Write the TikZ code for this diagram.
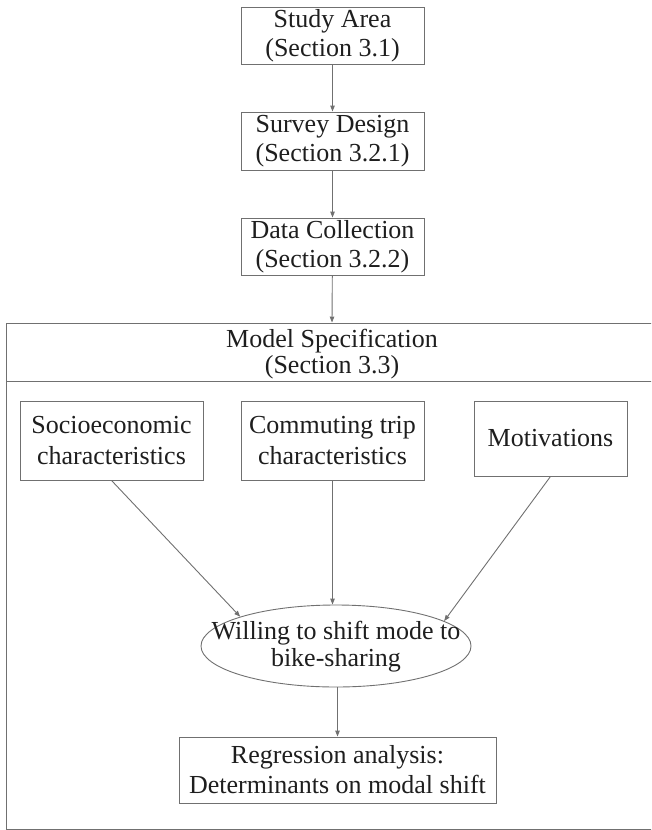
\documentclass[tikz,border=0pt]{standalone}
\usepackage{fontspec}
\setmainfont{Liberation Serif}
\usetikzlibrary{arrows.meta,shapes.geometric}
\definecolor{linegray}{HTML}{707070}
\definecolor{textblack}{HTML}{1E1E1E}
\begin{document}
\begin{tikzpicture}[x=1pt,y=-1pt,
  box/.style={draw=linegray, line width=0.9pt, inner sep=0pt, align=center,
    font=\fontsize{26}{29}\selectfont, text=textblack},
  arr/.style={draw=linegray, line width=0.9pt, -{Triangle[length=6pt,width=4.5pt]}},
]
\useasboundingbox (0,0) rectangle (651,830);
\clip (0,0) rectangle (651,830);
% top chain
\node[box, minimum width=183, minimum height=57] (study) at (332.5,35.5) {Study Area\\(Section 3.1)};
\node[box, minimum width=183, minimum height=58] (survey) at (332.5,141) {Survey Design\\(Section 3.2.1)};
\node[box, minimum width=183, minimum height=57] (data) at (332.5,246.5) {Data Collection\\(Section 3.2.2)};
% model specification frame
\node[draw=linegray, line width=0.9pt, minimum width=652, minimum height=506, inner sep=0pt] (model) at (332,576) {};
\coordinate (divl) at (6,381);
\coordinate (divr) at (658,381);
\draw[draw=linegray, line width=0.9pt] (divl) -- (divr);
\node[align=center, font=\fontsize{26}{26}\selectfont, text=textblack] (title) at (332,354) {Model Specification\\(Section 3.3)};
% factors
\node[box, font=\fontsize{26}{31}\selectfont, minimum width=183, minimum height=79] (socio) at (111.5,440.5) {Socioeconomic\\characteristics};
\node[box, font=\fontsize{26}{31}\selectfont, minimum width=183, minimum height=79] (commute) at (332.5,440.5) {Commuting trip\\characteristics};
\node[box, minimum width=153, minimum height=75] (motiv) at (550.5,438.5) {Motivations};
% outcome
\node[draw=linegray, line width=0.9pt, ellipse, inner sep=0pt, minimum width=270, minimum height=82] (will) at (336,646) {};
\node[align=center, inner sep=0pt, font=\fontsize{26}{27}\selectfont, text=textblack] (willtext) at ([yshift=-1pt]will.center) {Willing to shift mode to\\bike-sharing};
\node[box, font=\fontsize{26}{30}\selectfont, minimum width=317, minimum height=66] (reg) at (337.5,770) {Regression analysis:\\Determinants on modal shift};
% connectors
\draw[arr] (study) -- (survey);
\draw[arr] (survey) -- (data);
\draw[arr] (data) -- (model.north);
\draw[arr] (socio.south) -- (will.163);
\draw[arr] (commute.south) -- (commute.south |- will.north);
\draw[arr] (motiv.south) -- (will.13);
\draw[arr] (reg.north |- will.south) -- (reg.north);
\end{tikzpicture}
\end{document}
